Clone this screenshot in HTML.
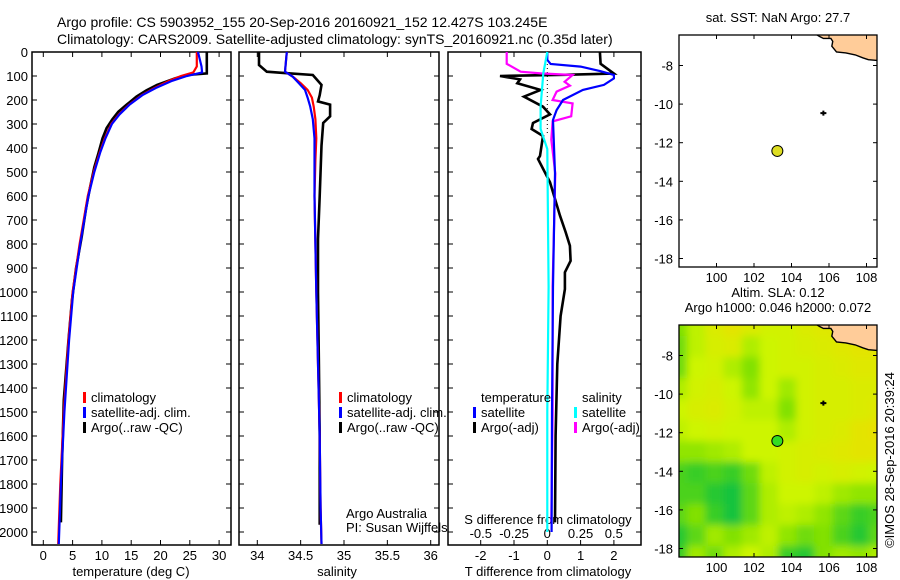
<!DOCTYPE html>
<html><head><meta charset="utf-8"><style>
html,body{margin:0;padding:0;background:#fff}
svg{display:block;font-family:"Liberation Sans",sans-serif;font-size:13px}
</style></head><body>
<svg id="fig" width="900" height="580" xmlns="http://www.w3.org/2000/svg">
<text x="57" y="27" font-size="14">Argo profile: CS 5903952_155 20-Sep-2016 20160921_152 12.427S 103.245E</text>
<text x="57" y="44" font-size="14">Climatology: CARS2009. Satellite-adjusted climatology: synTS_20160921.nc (0.35d later)</text>
<g id="g"></g>
</svg>
<script>
// ---- data ----
const depthTicks=[0,100,200,300,400,500,600,700,800,900,1000,1100,1200,1300,1400,1500,1600,1700,1800,1900,2000];
const tempTicks=[0,5,10,15,20,25,30];
const salTicks=[34,34.5,35,35.5,36];
const tdTicks=[-2,-1,0,1,2];
const sdTicks=[-0.5,-0.25,0,0.25,0.5];
const sdTickLabels=["-0.5","-0.25","0","0.25","0.5"];
const lonTicks=[100,102,104,106,108];
const latTicks=[-8,-10,-12,-14,-16,-18];

const argoD=[0,60,89,96,110,137,160,186,220,249,280,317,360,422,480,561,650,770,900,1033,1200,1450,1700,1960];
const argoT=[27.9,27.9,27.9,24.5,22.5,19.4,17.6,15.9,14.2,12.8,11.8,10.8,10.1,9.4,8.7,8.0,7.3,6.55,5.6,4.9,4.3,3.5,3.2,3.0];
const climD=[0,60,85,100,120,150,180,220,260,300,360,420,500,600,700,800,1000,1200,1500,1800,2050];
const climT=[26.2,26.2,25.6,23.5,21.5,19.0,16.8,14.6,12.9,11.6,10.5,9.6,8.6,7.6,6.9,6.2,5.0,4.3,3.5,2.9,2.55];
const satT=[26.4,27.0,27.1,24.5,22.0,19.2,16.9,14.7,13.0,11.7,10.6,9.7,8.7,7.7,7.0,6.3,5.1,4.4,3.6,3.0,2.65];

const argoSD=[0,54,82,87,96,137,180,206,219,268,296,390,600,779,1000,1300,1600,1970];
const argoS=[34.02,34.02,34.11,34.30,34.64,34.74,34.72,34.70,34.84,34.84,34.76,34.74,34.72,34.70,34.70,34.71,34.72,34.72];
const climSD=[0,82,103,130,158,190,227,280,360,450,600,800,1000,1300,1600,1900,2050];
const climS=[34.34,34.32,34.41,34.50,34.58,34.63,34.65,34.67,34.68,34.67,34.66,34.67,34.68,34.70,34.72,34.73,34.74];
const satS=[34.34,34.32,34.41,34.48,34.55,34.58,34.61,34.64,34.66,34.66,34.66,34.67,34.68,34.70,34.72,34.73,34.74];

const dtSatD=[0,33,50,61,80,96,110,137,158,200,242,283,506,978,1500,2000];
const dtSat=[0,0,0.1,1.0,1.6,2.0,2.0,1.7,1.07,0.47,0.28,0.17,0.23,0.17,0.14,0.13];
const dtArgoD=[0,49,90,95,100,114,130,158,186,228,260,296,321,350,433,446,543,682,750,807,870,918,988,1100,1300,1600,1960];
const dtArgo=[1.58,1.6,2.0,0.5,-1.42,-0.82,-0.9,-0.2,-0.7,-0.13,0.08,-0.43,-0.47,-0.13,-0.22,-0.28,0.08,0.38,0.55,0.68,0.7,0.53,0.53,0.4,0.3,0.25,0.23];
const dsArgoD=[0,49,82,89,96,124,140,165,200,214,268,289,365,506,978,1500,1960];
const dsArgo=[-0.305,-0.305,-0.2,-0.05,0.19,0.13,0.17,0.07,0.04,0.19,0.18,0.04,0.03,0.06,0.04,0.04,0.03];
const dsSatD=[0,89,228,321,404,978,1500,2000];
const dsSat=[0,-0.03,-0.05,-0.05,0,0.01,0,0];

const argoLon=103.245, argoLat=-12.427, xmasLon=105.7, xmasLat=-10.47;
const slaGrid=[
[.3,.5,.7,.8,.7,.6,.6,.7,.75,.8,.8,.8],
[.25,.5,.65,.7,.45,.55,.6,.65,.7,.75,.8,.8],
[.25,.55,.6,.45,.3,.55,.6,.6,.65,.7,.75,.75],
[.45,.6,.65,.55,.35,.55,.4,.6,.65,.65,.7,.7],
[.55,.65,.7,.6,.5,.5,.3,.6,.65,.65,.7,.75],
[.5,.55,.6,.55,.55,.55,.45,.6,.65,.7,.8,.85],
[.35,.35,.4,.45,.55,.55,.6,.65,.7,.75,.8,.8],
[.15,.1,.15,.1,.25,.5,.6,.65,.6,.65,.6,.55],
[.15,.15,.05,0,.2,.45,.55,.55,.5,.4,.35,.35],
[.2,.3,.1,0,.2,.45,.5,.45,.35,.2,.1,.15],
[.05,.2,.4,.3,.4,.5,.35,.25,.3,.15,.05,.2],
[.1,.4,.25,.45,.55,.45,.1,.05,.3,.4,.35,.45]];

// ---- helpers ----
const NS="http://www.w3.org/2000/svg";
const G=document.getElementById('g');
function mk(tag,at,par){const e=document.createElementNS(NS,tag);for(const k in at)e.setAttribute(k,at[k]);(par||G).appendChild(e);return e;}
function txt(x,y,s,anchor,par,fs){const t=mk('text',{x:x,y:y,'text-anchor':anchor||'start','font-size':fs||13},par);t.textContent=s;return t;}
const TOP=52,BOT=545;
const yD=d=>TOP+d*0.24;

function panel(name,x0,x1){
  const g=mk('g',{});
  
  
  const r=mk('rect',{x:x0,y:TOP,width:x1-x0,height:BOT-TOP,fill:'none',stroke:'#000','stroke-width':1.5},g);
  
  
  depthTicks.forEach(d=>{mk('line',{x1:x0,x2:x0+5,y1:yD(d),y2:yD(d),stroke:'#000'},g);mk('line',{x1:x1-5,x2:x1,y1:yD(d),y2:yD(d),stroke:'#000'},g);});
  return g;
}
function xticks(g,ticks,fx,labels,ly){
  ticks.forEach((v,i)=>{const x=fx(v);mk('line',{x1:x,x2:x,y1:BOT,y2:BOT-5,stroke:'#000'},g);mk('line',{x1:x,x2:x,y1:TOP,y2:TOP+5,stroke:'#000'},g);
    if(labels){const t=txt(x,ly,labels[i],'middle',g);}});
}
function line(g,name,vals,deps,fx,color,w){
  const pts=vals.map((v,i)=>fx(v).toFixed(1)+','+yD(deps[i]).toFixed(1)).join(' ');
  const p=mk('polyline',{points:pts,fill:'none',stroke:color,'stroke-width':w||2.2,'stroke-linejoin':'miter'},g);
  
  
}
function legend(g,x,y,color,label){
  mk('rect',{x:x,y:y-10,width:3,height:11,fill:color},g);
  const t=txt(x+8,y,label,'start',g);
  
  
}

// ---- panel 1: temperature ----
const fT=t=>43.3+t*5.86;
const p1=panel('temperature-panel',32,231);
depthTicks.forEach(d=>{const t=txt(28,yD(d)+5,String(d),'end',p1);});
xticks(p1,tempTicks,fT,tempTicks.map(String),560);
const xt1=txt(131,576,'temperature (deg C)','middle',p1);


line(p1,'argo-temperature-line',argoT,argoD,fT,'#000',2.6);
line(p1,'climatology-temperature-line',climT,climD,fT,'#f00',2.2);
line(p1,'satellite-temperature-line',satT,climD.slice(0,satT.length),fT,'#00f',2.2);
legend(p1,83,402,'#f00','climatology');
legend(p1,83,417,'#00f','satellite-adj. clim.');
legend(p1,83,432,'#000','Argo(..raw -QC)');

// ---- panel 2: salinity ----
const fS=s=>257.3+(s-34)*86.7;
const p2=panel('salinity-panel',239,439);
xticks(p2,salTicks,fS,salTicks.map(String),560);
const xt2=txt(337,576,'salinity','middle',p2);


line(p2,'argo-salinity-line',argoS,argoSD,fS,'#000',2.6);
line(p2,'climatology-salinity-line',climS,climSD,fS,'#f00',2.2);
line(p2,'satellite-salinity-line',satS,climSD,fS,'#00f',2.2);
legend(p2,339,402,'#f00','climatology');
legend(p2,339,417,'#00f','satellite-adj. clim.');
legend(p2,339,432,'#000','Argo(..raw -QC)');
const ca=txt(346,518,'Argo Australia','start',p2);


const cb=txt(346,532,'PI: Susan Wijffels','start',p2);



// ---- panel 3: differences ----
const fdT=v=>547.3+v*33.3;
const fdS=v=>547.3+v*133;
const p3=panel('difference-panel',448,641);
xticks(p3,tdTicks,fdT,tdTicks.map(String),560);
sdTicks.forEach((v,i)=>{const t=txt(fdS(v),538,sdTickLabels[i],'middle',p3);});
const st=txt(548,524,'S difference from climatology','middle',p3);


const tt=txt(548,576,'T difference from climatology','middle',p3);


const zl=mk('line',{x1:fdT(0),x2:fdT(0),y1:TOP,y2:yD(350),stroke:'#000','stroke-dasharray':'1,3'},p3);


line(p3,'argo-t-diff-line',dtArgo,dtArgoD,fdT,'#000',2.6);
line(p3,'argo-s-diff-line',dsArgo,dsArgoD,fdS,'#f0f',2.2);
line(p3,'satellite-t-diff-line',dtSat,dtSatD,fdT,'#00f',2.2);
line(p3,'satellite-s-diff-line',dsSat,dsSatD,fdS,'#0ff',2.2);
const lt=txt(481,402,'temperature','start',p3);


const ls=txt(582,402,'salinity','start',p3);


legend(p3,473,417,'#00f','satellite');
legend(p3,473,432,'#000','Argo(-adj)');
legend(p3,574,417,'#0ff','satellite');
legend(p3,574,432,'#f0f','Argo(-adj)');

// ---- maps ----
const land=[[105.2,-6.2],[105.25,-6.35],[105.5,-6.5],[105.7,-6.6],[106.1,-6.6],[106.2,-6.75],[106.15,-7.0],[106.4,-7.3],[106.9,-7.35],[107.4,-7.45],[107.8,-7.6],[108.1,-7.7],[108.7,-7.75],[108.7,-6.2]];
function slaColor(v){
  if(v<0.3){const k=v/0.3;return `rgb(${Math.round(20+k*110)},${Math.round(195+k*30)},${Math.round(60-k*60)})`;}
  if(v<0.55){const k=(v-0.3)/0.25;return `rgb(${Math.round(130+k*75)},${Math.round(225+k*20)},0)`;}
  const k=(v-0.55)/0.45;return `rgb(${Math.round(205+k*40)},${Math.round(245-k*30)},0)`;
}
function map(name,top,title1,title2,withSla){
  const L=679,R=877,B=top+232;
  const fx=lon=>L+(lon-98)*18.75;
  const fy=lat=>top+30.5+(-8-lat)*19.3;
  const g=mk('g',{});
  
  
  const cid=name+'-clip';
  const cp=mk('clipPath',{id:cid},g);mk('rect',{x:L,y:top,width:R-L,height:B-top},cp);
  const inner=mk('g',{'clip-path':'url(#'+cid+')'},g);
  if(withSla){
    const f=mk('filter',{id:'bl',x:'-10%',y:'-10%',width:'120%',height:'120%'},g);mk('feGaussianBlur',{stdDeviation:4},f);
    const hg=mk('g',{filter:'url(#bl)'},inner);
    const nr=slaGrid.length,nc=slaGrid[0].length,cw=(R-L+20)/nc,ch=(B-top+20)/nr;
    slaGrid.forEach((row,r)=>row.forEach((v,c)=>{
      const cell=mk('rect',{x:L-10+c*cw,y:top-10+r*ch,width:cw+1,height:ch+1,fill:slaColor(v)},hg);
      
      
    }));
  }
  const lp=mk('polygon',{points:land.map(p=>fx(p[0])+','+fy(p[1])).join(' '),fill:'#ffcc99',stroke:'#000','stroke-width':1.4},inner);
  
  
  const xi=mk('path',{d:`M${fx(xmasLon)-3},${fy(xmasLat)} L${fx(xmasLon)+3},${fy(xmasLat)} M${fx(xmasLon)},${fy(xmasLat)-2.5} L${fx(xmasLon)},${fy(xmasLat)+2.5}`,stroke:'#000','stroke-width':2},inner);
  
  
  const c=mk('circle',{cx:fx(argoLon),cy:fy(argoLat),r:5.5,fill:withSla?'#33dd22':'#dddd22',stroke:'#000'},g);
  
  
  mk('rect',{x:L,y:top,width:R-L,height:B-top,fill:'none',stroke:'#000','stroke-width':1.3},g);
  lonTicks.forEach(v=>{const x=fx(v);mk('line',{x1:x,x2:x,y1:top,y2:top+4,stroke:'#000'},g);mk('line',{x1:x,x2:x,y1:B,y2:B-4,stroke:'#000'},g);
    const t=txt(x,B+15,String(v),'middle',g);});
  latTicks.forEach(v=>{const y=fy(v);mk('line',{x1:L,x2:L+4,y1:y,y2:y,stroke:'#000'},g);mk('line',{x1:R,x2:R-4,y1:y,y2:y,stroke:'#000'},g);
    const t=txt(L-6,y+5,String(v),'end',g);});
  const t1=txt(778,top-13-(title2?15:0),title1,'middle',g);
  
  
  if(title2){const t2=txt(778,top-13,title2,'middle',g);}
}
map('sst-map',35,'sat. SST: NaN Argo: 27.7',null,false);
map('sla-map',325,'Altim. SLA: 0.12','Argo h1000: 0.046 h2000: 0.072',true);
const cr=txt(0,0,'©IMOS 28-Sep-2016 20:39:24','middle',G);
cr.setAttribute('transform','translate(894,460) rotate(-90)');


</script>
</body></html>
